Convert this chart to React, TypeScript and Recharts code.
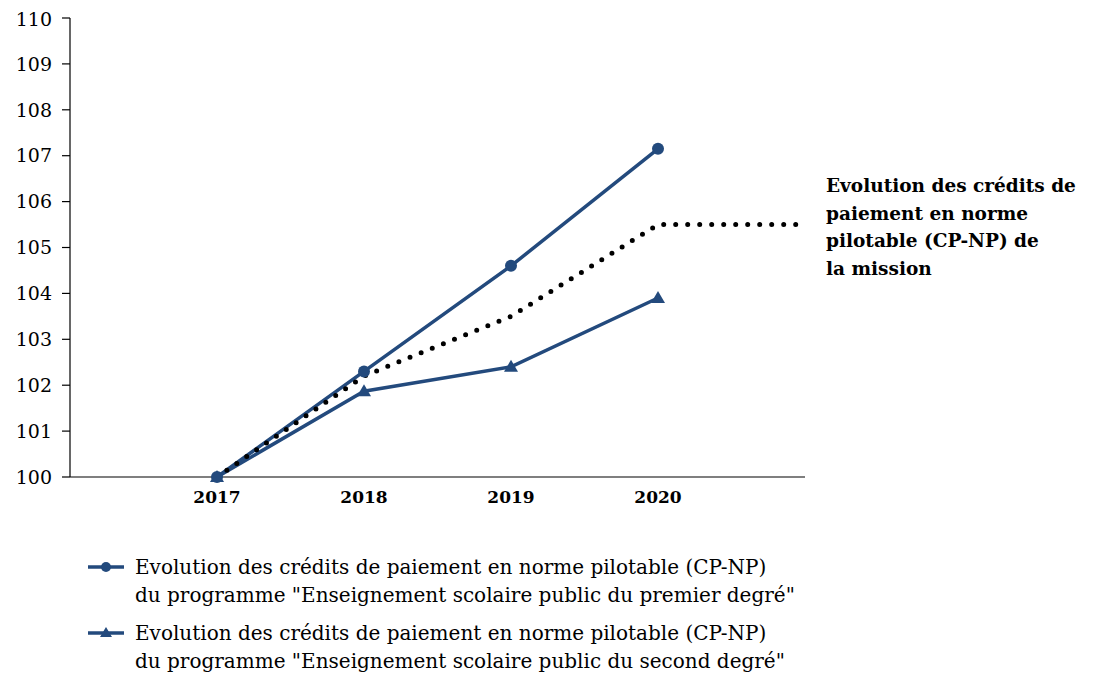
import { LineChart, Line, XAxis, YAxis } from "recharts";

// values (index 2016 = 100)
const years = [2017, 2018, 2019, 2020, 2021];
const premierDegre = [100, 102.3, 104.6, 107.15, null];
const secondDegre = [100, 101.87, 102.4, 103.9, null];
const mission = [100, 102.2, 103.5, 105.5, 105.5];
const yTicks = [100, 101, 102, 103, 104, 105, 106, 107, 108, 109, 110];
const xTicks = [2017, 2018, 2019, 2020];

const legendLabels = [
  [
    "Evolution des crédits de paiement en norme pilotable (CP-NP)",
    'du programme "Enseignement scolaire public du premier degré"',
  ],
  [
    "Evolution des crédits de paiement en norme pilotable (CP-NP)",
    'du programme "Enseignement scolaire public du second degré"',
  ],
];
const missionLabel = [
  "Evolution des crédits de",
  "paiement en norme",
  "pilotable (CP-NP) de",
  "la mission",
];

const data = years.map((year, i) => ({
  year,
  premier: premierDegre[i],
  second: secondDegre[i],
  mission: mission[i],
}));

const BLUE = "#234a7d";
const FONT = "'DejaVu Serif', serif";

const Triangle = (props: any) => {
  const { cx, cy } = props;
  if (cx == null || cy == null) return null;
  return (
    <polygon
      points={`${cx},${cy - 7} ${cx - 7},${cy + 5} ${cx + 7},${cy + 5}`}
      fill={BLUE}
    />
  );
};

function LegendIcon({ kind }: { kind: "circle" | "triangle" }) {
  return (
    <svg width={36} height={14} style={{ display: "block" }}>
      <line x1={0} y1={7} x2={36} y2={7} stroke={BLUE} strokeWidth={3.5} />
      {kind === "circle" ? (
        <circle cx={18} cy={7} r={5} fill={BLUE} />
      ) : (
        <polygon points="18,1 12,11 24,11" fill={BLUE} />
      )}
    </svg>
  );
}

export default function App() {
  return (
    <div style={{ position: "relative", width: 1080, height: 670, fontFamily: FONT }}>
      <LineChart
        width={1080}
        height={510}
        data={data}
        margin={{ top: 10, right: 283, bottom: 0, left: 0 }}
      >
        <XAxis
          dataKey="year"
          type="number"
          domain={[2016, 2021]}
          ticks={xTicks}
          height={41}
          tickLine={false}
          tickMargin={8}
          axisLine={{ stroke: "#000", strokeWidth: 1.2 }}
          tick={{ fill: "#000", fontSize: 17, fontWeight: "bold", fontFamily: "DejaVu Serif" }}
        />
        <YAxis
          domain={[100, 110]}
          ticks={yTicks}
          width={62}
          tickSize={8}
          tickMargin={10}
          axisLine={{ stroke: "#000", strokeWidth: 1.2 }}
          tickLine={{ stroke: "#000", strokeWidth: 1.2 }}
          tick={{ fill: "#000", fontSize: 19, fontFamily: "DejaVu Serif" }}
        />
        <Line
          dataKey="premier"
          stroke={BLUE}
          strokeWidth={3.5}
          dot={{ r: 6, fill: BLUE, stroke: BLUE, strokeWidth: 0 }}
          isAnimationActive={false}
        />
        <Line
          dataKey="second"
          stroke={BLUE}
          strokeWidth={3.5}
          dot={<Triangle />}
          isAnimationActive={false}
        />
        <Line
          dataKey="mission"
          type="linear"
          stroke="#000"
          strokeWidth={5}
          strokeDasharray="0 12"
          strokeLinecap="round"
          strokeLinejoin="round"
          dot={false}
          isAnimationActive={false}
        />
      </LineChart>
      <div
        style={{
          position: "absolute",
          left: 818,
          top: 164,
          fontWeight: "bold",
          fontSize: 18.5,
          lineHeight: "27.5px",
          fontFamily: FONT,
        }}
      >
        {missionLabel.map((l) => (
          <div key={l}>{l}</div>
        ))}
      </div>
      <div
        style={{
          position: "absolute",
          left: 80,
          top: 545,
          fontSize: 20,
          lineHeight: "28px",
          fontFamily: FONT,
          whiteSpace: "nowrap",
        }}
      >
        {legendLabels.map((lines, i) => (
          <div key={i} style={{ display: "flex", alignItems: "flex-start", marginBottom: 10 }}>
            <div style={{ width: 47, paddingTop: 7 }}>
              <LegendIcon kind={i === 0 ? "circle" : "triangle"} />
            </div>
            <div>
              {lines.map((l) => (
                <div key={l}>{l}</div>
              ))}
            </div>
          </div>
        ))}
      </div>
    </div>
  );
}
